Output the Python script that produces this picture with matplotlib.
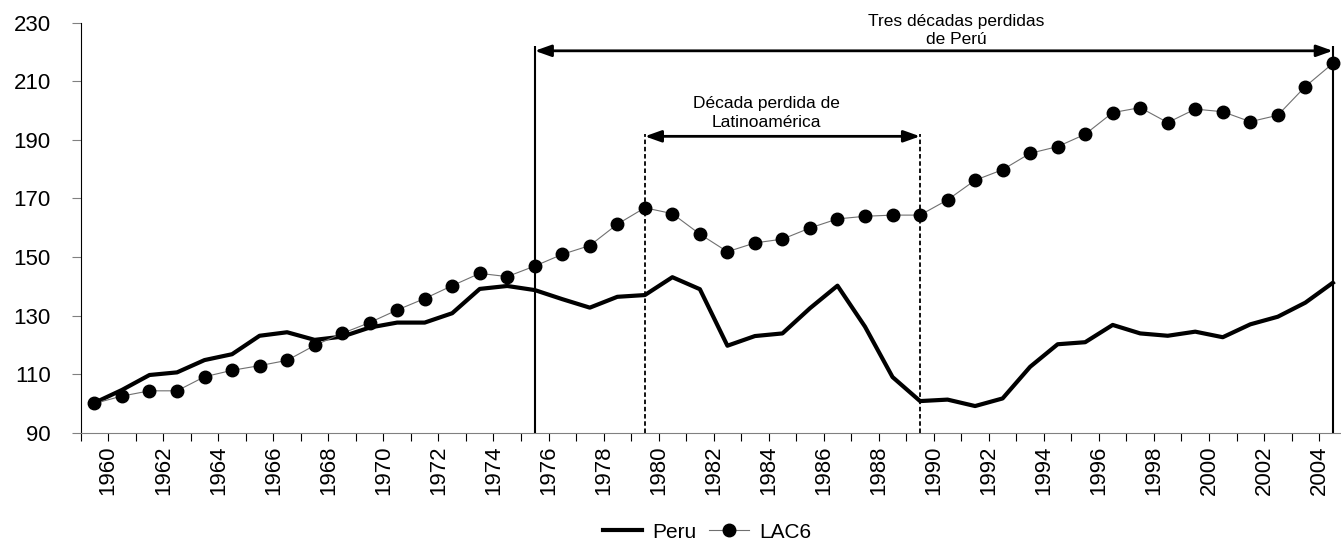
import numpy as np
import matplotlib
matplotlib.use("Agg")
import matplotlib.pyplot as plt

plt.rcParams['font.family'] = ['Liberation Sans', 'DejaVu Sans']

# ---- data (index 0..45) ----
peru = [100.2, 104.6, 109.7, 110.6, 114.8, 116.8, 123.1, 124.3, 121.7, 122.8,
        125.9, 127.6, 127.6, 130.8, 139.1, 140.1, 138.7, 135.6, 132.7, 136.4,
        137.0, 143.1, 139.0, 119.7, 123.0, 123.9, 132.5, 140.2, 126.2, 109.0,
        100.8, 101.3, 99.1, 101.7, 112.5, 120.2, 120.9, 126.8, 123.9, 123.1,
        124.5, 122.6, 127.0, 129.6, 134.4, 141.2]
lac6 = [100.0, 102.5, 104.3, 104.3, 109.1, 111.3, 112.9, 114.7, 119.8, 123.9,
        127.6, 131.9, 135.8, 140.2, 144.4, 143.3, 146.9, 150.9, 153.9, 161.2,
        166.8, 164.8, 157.8, 151.8, 154.8, 156.1, 159.9, 163.0, 163.9, 164.3,
        164.3, 169.5, 176.2, 179.8, 185.4, 187.7, 191.9, 199.3, 201.0, 195.9,
        200.5, 199.6, 196.2, 198.4, 208.2, 216.1]
tick_years = list(range(1960, 2005, 2))
first_year = 1960
series_names = ['Peru', 'LAC6']
y_ticks = [90, 110, 130, 150, 170, 190, 210, 230]

W, H = 1341, 543
fig = plt.figure(figsize=(W / 100, H / 100), dpi=100)
ax = fig.add_axes([80.7 / W, 1 - 432.7 / H, 1265.9 / W, 410 / H])

x = np.arange(len(peru))
ax.plot(x, peru, color='black', lw=3.0, label=series_names[0], zorder=3)
ax.plot(x, lac6, color='#707070', lw=0.8, marker='o', ms=9,
        mfc='black', mec='black', label=series_names[1], zorder=4)

ax.set_xlim(-0.5, len(peru) - 0.5)
ax.set_ylim(y_ticks[0], y_ticks[-1])
ax.set_yticks(y_ticks)
ax.set_yticklabels([str(v) for v in y_ticks], fontsize=16)

ticks = np.arange(-0.5, len(peru), 1.0)
labels = [''] * len(ticks)
for yr in tick_years:
    k = yr - first_year
    labels[k + 1] = str(yr)
ax.set_xticks(ticks)
ax.set_xticklabels(labels, rotation=90, fontsize=16)

for s in ['top', 'right']:
    ax.spines[s].set_visible(False)
ax.spines['left'].set_color('black')
ax.spines['bottom'].set_color('#808080')
ax.tick_params(axis='y', direction='out', length=6.5, width=0.8, pad=15,
               color='#808080', labelcolor='black')
ax.tick_params(axis='x', direction='out', length=5.5, width=0.8, pad=4,
               color='black', labelcolor='black')

# ---- annotations ----
i_peru0, i_peru1 = 16, 45
i_lat0, i_lat1 = 20, 30
ax.vlines([i_peru0, i_peru1], 90, 222, colors='black', lw=1.5, zorder=5)
ax.vlines([i_lat0, i_lat1], 90, 192, colors='black', lw=1.3,
          linestyles=(0, (2.5, 1.5)), zorder=5)

arrow = dict(arrowstyle='<|-|>,head_length=0.7,head_width=0.25',
             color='black', lw=2, mutation_scale=14, shrinkA=0, shrinkB=0)
ax.annotate('', xy=(i_peru1, 220.4), xytext=(i_peru0, 220.4),
            arrowprops=arrow, annotation_clip=False)
ax.annotate('', xy=(i_lat1, 191.2), xytext=(i_lat0, 191.2),
            arrowprops=arrow, annotation_clip=False)

ax.text(31.3, 227.3, 'Tres décadas perdidas\nde Perú', ha='center',
        va='center', fontsize=12.5, linespacing=1.3, clip_on=False)
ax.text(24.43, 199.1, 'Década perdida de\nLatinoamérica', ha='center',
        va='center', fontsize=12.5, linespacing=1.3, clip_on=False)

fig.legend(loc='center', bbox_to_anchor=(707 / W, 1 - 532 / H), ncol=2,
           frameon=False, fontsize=15, handlelength=1.9, columnspacing=0.6,
           handletextpad=0.5, borderpad=0, borderaxespad=0)

fig.savefig('out.png', dpi=100)
